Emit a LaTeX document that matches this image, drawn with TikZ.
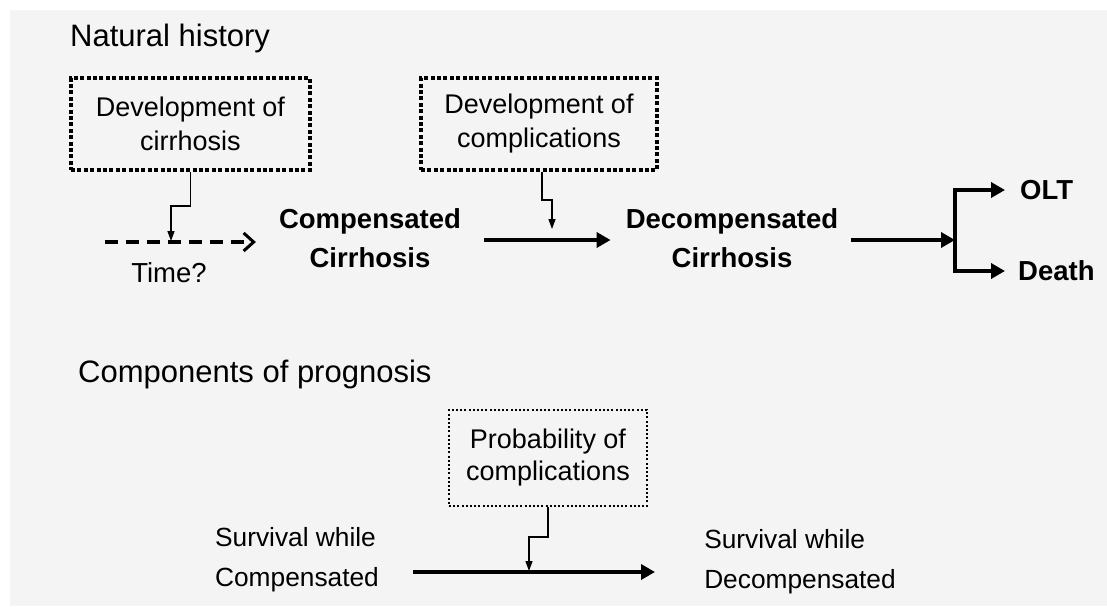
\documentclass[tikz,border=0pt]{standalone}
\usepackage{fontspec}
\setmainfont{Liberation Sans}
\usepackage{xcolor}
\usetikzlibrary{arrows.meta,positioning,calc}
\definecolor{bggray}{HTML}{F4F4F4}
\tikzset{
  txt/.style={inner sep=0pt,align=left,font=\fontsize{26.3}{40}\selectfont},
  heading/.style={inner sep=0pt,anchor=west,font=\fontsize{31}{36}\selectfont},
  stagetxt/.style={inner sep=0pt,align=center,font=\fontsize{27.5}{39}\selectfont\bfseries},
  endtxt/.style={inner sep=0pt,anchor=west,font=\fontsize{27.5}{32}\selectfont\bfseries},
  eventbox/.style={draw=black,line width=4pt,dash pattern=on 4pt off 2.4pt,
    align=center,inner sep=0pt,font=\fontsize{27}{34}\selectfont,minimum height=92pt},
  probbox/.style={draw=black,line width=2pt,dash pattern=on 2pt off 2.2pt,
    align=center,inner sep=0pt,font=\fontsize{27}{32}\selectfont,minimum height=96pt},
  flow/.style={-{Triangle[length=14pt,width=15pt]},line width=3.6pt},
  timeflow/.style={-{Straight Barb[length=10pt,width=18pt,line width=3pt]},line width=3.5pt,
    dash pattern=on 13pt off 8pt},
  effect/.style={-{Triangle[length=10pt,width=7pt]},line width=1.3pt}
}
\begin{document}
\begin{tikzpicture}[x=1pt,y=-1pt]
\useasboundingbox (0,0) rectangle (1107,606);
\fill[bggray] (10,10) rectangle (1107,606);

\node[heading] (hnat) at (70,38) {Natural history};
\node[heading] (hcomp) at (78,374) {Components of prognosis};

\node[eventbox,minimum width=239pt] (devcirr) at (190.5,124) {Development of\\cirrhosis};
\node[eventbox,minimum width=236pt] (devcomp) at (539,124) {Development of\\complications};
\node[probbox,minimum width=198pt] (probcomp) at (548,458) {Probability of\\complications};

\node[txt,align=center,font=\fontsize{27.5}{32}\selectfont] (time) at (169,273) {Time?};
\node[stagetxt] (cc) at (370,238) {Compensated\\Cirrhosis};
\node[stagetxt] (dc) at (732,238) {Decompensated\\Cirrhosis};
\node[endtxt] (olt) at (1020,190) {OLT};
\node[endtxt] (death) at (1018,271) {Death};

\node[txt] (swc) at (297,560) {Survival while\\Compensated};
\node[txt] (swd) at (800,562) {Survival while\\Decompensated};

\coordinate (t0) at (105,242);
\coordinate (t1) at (171,241);
\coordinate (t2) at (552,229);
\coordinate (fork) at (955,240);
\coordinate (s0) at (413,572);
\coordinate (s1) at (655,572);
\coordinate (t3) at (529,571);

\draw[timeflow] (t0) -- ([xshift=-23pt]cc.west |- t0);
\draw[flow] ([xshift=23pt]cc.east |- fork) -- ([xshift=-15pt]dc.west |- fork);
\draw[flow] ([xshift=13pt]dc.east |- fork) -- (fork);
\draw[flow,line join=miter] (fork) |- ([xshift=-15pt]olt.west);
\draw[flow,line join=miter] (fork) |- ([xshift=-13pt]death.west);
\draw[flow] (s0) -- (s1);

\draw[effect] (devcirr.south) -- ++(0,34) -| (t1);
\draw[effect] (devcomp.south -| 542,0) -- ++(0,28) -| (t2);
\draw[effect] (probcomp.south) -- ++(0,30) -| (t3);
\end{tikzpicture}
\end{document}
